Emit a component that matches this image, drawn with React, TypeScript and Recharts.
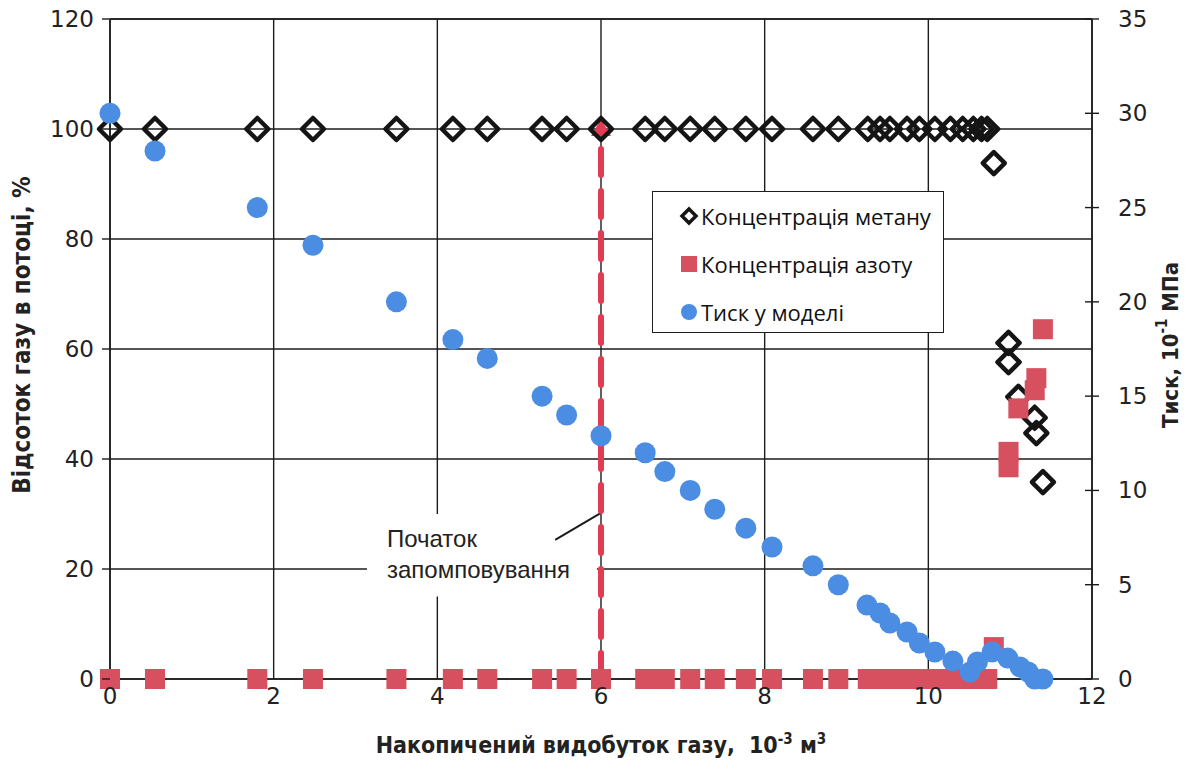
import React from "react";
import {
  ScatterChart,
  Scatter,
  XAxis,
  YAxis,
  CartesianGrid,
  ReferenceArea,
  ReferenceLine,
  Legend,
} from "recharts";

// --- data ---
const xTicks = [0, 2, 4, 6, 8, 10, 12];
const leftTicks = [0, 20, 40, 60, 80, 100, 120];
const rightTicks = [0, 5, 10, 15, 20, 25, 30, 35];

// methane / nitrogen share the same production values
const sampleX = [
  0, 0.55, 1.8, 2.48, 3.5, 4.19, 4.61, 5.28, 5.58, 6.0, 6.54, 6.78, 7.09, 7.39, 7.77, 8.09, 8.59,
  8.9, 9.26, 9.41, 9.53, 9.74, 9.89, 10.08, 10.27, 10.42, 10.55, 10.65, 10.72, 10.8, 10.98, 10.98,
  11.1, 11.3, 11.32, 11.4,
];
const methaneY = [
  100, 100, 100, 100, 100, 100, 100, 100, 100, 100, 100, 100, 100, 100, 100, 100, 100, 100, 100, 100,
  100, 100, 100, 100, 100, 100, 100, 100, 100, 93.8, 61.1, 57.6, 51.3, 47.5, 44.7, 35.8,
];
const nitrogenY = [
  0, 0, 0, 0, 0, 0, 0, 0, 0, 0, 0, 0, 0, 0, 0, 0, 0, 0, 0, 0, 0, 0, 0, 0, 0, 0, 0, 0, 0, 5.8, 38.5,
  41.3, 49.2, 52.5, 54.7, 63.6,
];

const pressureX = [
  0, 0.55, 1.8, 2.48, 3.5, 4.19, 4.61, 5.28, 5.58, 6.0, 6.54, 6.78, 7.09, 7.39, 7.77, 8.09, 8.59,
  8.9, 9.25, 9.41, 9.53, 9.74, 9.89, 10.08, 10.3, 10.51, 10.6, 10.78, 10.97, 11.12, 11.22, 11.3, 11.4,
];
const pressureY = [
  30, 28, 25, 23, 20, 18, 17, 15, 14, 12.9, 12, 11, 10, 9, 8, 7, 6, 5, 3.92, 3.5, 2.97, 2.49, 1.91,
  1.43, 0.95, 0.37, 0.9, 1.43, 1.11, 0.64, 0.37, 0, 0,
];

// start of injection marker
const injectionX = [6, 6];
const injectionY = [0, 100];

const seriesNames = ["Концентрація метану", "Концентрація азоту", "Тиск у моделі"];

const RED = "#D6505F";
const LINE_RED = "#E23C55";
const BLUE = "#4A8DE2";
const INK = "#1c1c1c";
const TICK_FONT = "'DejaVu Sans', Verdana, sans-serif";
const TITLE_FONT = "'DejaVu Sans Condensed', 'Liberation Sans Narrow', 'DejaVu Sans', sans-serif";

const zip = (xs: number[], ys: number[]) => xs.map((x, i) => ({ x, y: ys[i] }));
const methane = zip(sampleX, methaneY);
const nitrogen = zip(sampleX, nitrogenY);
const pressure = zip(pressureX, pressureY);
const injection = zip(injectionX, injectionY);

const Diamond = (p: any) => {
  const { cx, cy } = p;
  const r = 11;
  return (
    <path
      d={`M${cx},${cy - r}L${cx + r},${cy}L${cx},${cy + r}L${cx - r},${cy}Z`}
      fill="none"
      stroke="#151515"
      strokeWidth={4.5}
      strokeLinejoin="round"
    />
  );
};
const Square = (p: any) => <rect x={p.cx - 10} y={p.cy - 10} width={20} height={20} fill={RED} />;
const Dot = (p: any) => <circle cx={p.cx} cy={p.cy} r={10.5} fill={BLUE} />;
const Triangle = (p: any) => {
  const { cx, cy } = p;
  return <path d={`M${cx},${cy - 10}L${cx + 10},${cy + 7}L${cx - 10},${cy + 7}Z`} fill={LINE_RED} />;
};

const LeftTick = (p: any) => {
  const { x, y, payload } = p;
  const ax = x + 8 + 8;
  return (
    <g>
      <line x1={ax - 8} x2={ax} y1={y} y2={y} stroke={INK} strokeWidth={1.4} />
      <text x={x} y={y} dy={8} textAnchor="end" fontFamily={TICK_FONT} fontSize={23} fill="#222">
        {payload.value}
      </text>
    </g>
  );
};

const RightTick = (p: any) => {
  const { x, y, payload } = p;
  const ax = x - 7 - 19;
  return (
    <g>
      <line x1={ax - 7} x2={ax + 7} y1={y} y2={y} stroke={INK} strokeWidth={1.4} />
      <text x={x} y={y} dy={8} textAnchor="start" fontFamily={TICK_FONT} fontSize={23} fill="#222">
        {payload.value}
      </text>
    </g>
  );
};

const BottomTick = (p: any) => {
  const { x, y, payload } = p;
  return (
    <text x={x} y={y} dy={21} textAnchor="middle" fontFamily={TICK_FONT} fontSize={23} fill="#222">
      {payload.value}
    </text>
  );
};

const renderLegend = () => (
  <div
    style={{
      width: 292,
      height: 142,
      boxSizing: "border-box",
      border: `1.5px solid ${INK}`,
      background: "#fff",
      padding: "0 0 0 26px",
      fontFamily: "'Open Sans', 'Noto Sans', sans-serif",
      fontSize: 22,
      color: "#111",
    }}
  >
    {seriesNames.map((name, i) => (
      <div key={name} style={{ display: "flex", alignItems: "center", height: 48, whiteSpace: "nowrap" }}>
        <svg width={20} height={20} style={{ marginRight: 2 }}>
          {i === 0 && <path d="M10,3L17,10L10,17L3,10Z" fill="none" stroke="#151515" strokeWidth={3.5} />}
          {i === 1 && <rect x={2} y={2} width={16} height={16} fill={RED} />}
          {i === 2 && <circle cx={10} cy={10} r={8} fill={BLUE} />}
        </svg>
        <span>{name}</span>
      </div>
    ))}
  </div>
);

const noteLabel = (props: any) => {
  const { x, y } = props.viewBox;
  return (
    <text fontFamily="'Liberation Sans', Arial, sans-serif" fontSize={24} fill="#222">
      <tspan x={x + 20} y={y + 33}>Початок</tspan>
      <tspan x={x + 20} y={y + 64}>запомповування</tspan>
    </text>
  );
};

export default function App() {
  return (
    <div style={{ position: "absolute", left: 0, top: 0, width: 1191, height: 771, background: "#fff" }}>
      <ScatterChart width={1191} height={771} margin={{ top: 19, right: 0, bottom: 0, left: 0 }}>
        <CartesianGrid yAxisId="left" stroke={INK} strokeWidth={1.4} />
        <XAxis
          type="number"
          dataKey="x"
          domain={[0, 12]}
          ticks={xTicks}
          interval={0}
          height={92}
          tickSize={0}
          tickMargin={4}
          tick={<BottomTick />}
          axisLine={{ stroke: INK, strokeWidth: 1.6 }}
          label={{
            content: (p: any) => {
              const vb = p.viewBox;
              return (
                <text
                  x={vb.x + vb.width / 2}
                  y={vb.y + 74}
                  textAnchor="middle"
                  fontFamily={TITLE_FONT}
                  fontWeight="bold"
                  fontSize={23}
                  fill="#222"
                >
                  Накопичений видобуток газу,
                  <tspan dx={14}>10</tspan>
                  <tspan dy={-9} fontSize={15}>-3</tspan>
                  <tspan dy={9}> м</tspan>
                  <tspan dy={-9} fontSize={15}>3</tspan>
                </text>
              );
            },
          }}
        />
        <YAxis
          yAxisId="left"
          type="number"
          dataKey="y"
          domain={[0, 120]}
          ticks={leftTicks}
          interval={0}
          width={110}
          tickSize={8}
          tickMargin={8}
          tickLine={false}
          tick={<LeftTick />}
          axisLine={{ stroke: INK, strokeWidth: 1.6 }}
          label={{
            content: (p: any) => {
              const vb = p.viewBox;
              const cx = vb.x + 22;
              const cy = vb.y + vb.height / 2 - 14;
              return (
                <text
                  x={cx}
                  y={cy}
                  transform={`rotate(-90 ${cx} ${cy})`}
                  textAnchor="middle"
                  dominantBaseline="central"
                  fontFamily={TITLE_FONT}
                  fontWeight="bold"
                  fontSize={24}
                  fill="#222"
                >
                  Відсоток газу в потоці, %
                </text>
              );
            },
          }}
        />
        <YAxis
          yAxisId="right"
          orientation="right"
          type="number"
          dataKey="y"
          domain={[0, 35]}
          ticks={rightTicks}
          interval={0}
          width={99}
          tickSize={7}
          tickMargin={19}
          tickLine={false}
          tick={<RightTick />}
          axisLine={{ stroke: INK, strokeWidth: 1.6 }}
          label={{
            content: (p: any) => {
              const vb = p.viewBox;
              const cx = vb.x + 78;
              const cy = vb.y + vb.height / 2 - 4;
              return (
                <text
                  x={cx}
                  y={cy}
                  transform={`rotate(-90 ${cx} ${cy})`}
                  textAnchor="middle"
                  dominantBaseline="central"
                  fontFamily={TITLE_FONT}
                  fontWeight="bold"
                  fontSize={22}
                  fill="#222"
                >
                  Тиск, 10
                  <tspan dy={-8} fontSize={15}>-1</tspan>
                  <tspan dy={8}> МПа</tspan>
                </text>
              );
            },
          }}
        />
        <ReferenceLine yAxisId="left" y={120} stroke={INK} strokeWidth={1.4} />
        <ReferenceArea
          yAxisId="left"
          x1={3.14}
          x2={5.95}
          y1={15}
          y2={30}
          fill="#fff"
          fillOpacity={1}
          strokeOpacity={0}
          label={{ content: noteLabel }}
        />
        <ReferenceLine
          yAxisId="left"
          segment={[
            { x: 5.44, y: 25.3 },
            { x: 6, y: 30.2 },
          ]}
          stroke={INK}
          strokeWidth={2}
        />
        <Scatter
          yAxisId="left"
          data={injection}
          shape={Triangle}
          line={{ stroke: LINE_RED, strokeWidth: 6, strokeDasharray: "26 16", strokeLinecap: "round" }}
          isAnimationActive={false}
          legendType="none"
        />
        <Scatter
          name={seriesNames[0]}
          yAxisId="left"
          data={methane}
          shape={Diamond}
          isAnimationActive={false}
        />
        <Scatter
          name={seriesNames[1]}
          yAxisId="left"
          data={nitrogen}
          shape={Square}
          isAnimationActive={false}
        />
        <Scatter
          name={seriesNames[2]}
          yAxisId="right"
          data={pressure}
          shape={Dot}
          isAnimationActive={false}
        />
        <Legend
          layout="vertical"
          align="center"
          verticalAlign="middle"
          content={renderLegend}
          wrapperStyle={{ left: 652, top: 191, width: 292, height: 142 }}
        />
      </ScatterChart>
    </div>
  );
}
